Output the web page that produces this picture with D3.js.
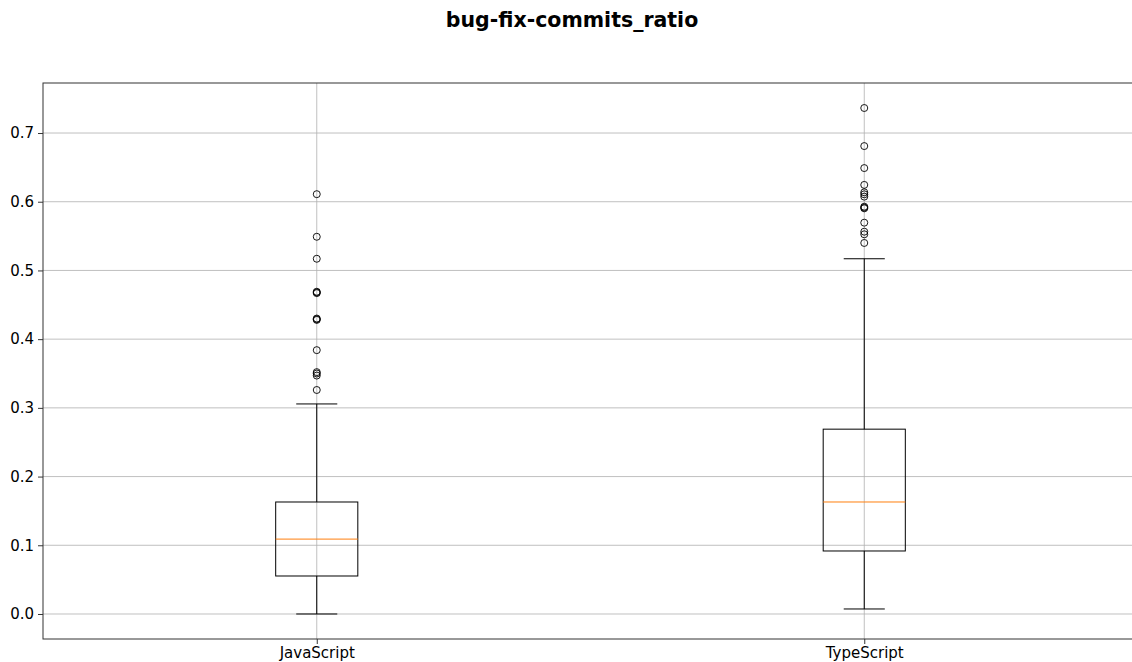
<!DOCTYPE html>
<html>
<head>
<meta charset="utf-8">
<script src="https://cdn.jsdelivr.net/npm/d3@7"></script>
<style>
  body { margin: 0; background: #fff; }
  svg { display: block; font-family: "DejaVu Sans", sans-serif; }
</style>
</head>
<body>
<svg id="chart" width="1132" height="662"></svg>
<script>
// Languages compared
const categories = ["JavaScript", "TypeScript"];
// Box statistics per language: lower whisker, Q1, median, Q3, upper whisker
const whiskerLow = [0.0, 0.0073];
const q1 = [0.0553, 0.0917];
const median = [0.109, 0.163];
const q3 = [0.163, 0.269];
const whiskerHigh = [0.3057, 0.517];
// Points beyond the whiskers
const outliersJS = [0.611, 0.549, 0.517, 0.468, 0.467, 0.469, 0.429, 0.428, 0.430, 0.384, 0.352, 0.350, 0.347, 0.326];
const outliersTS = [0.7364, 0.681, 0.649, 0.6245, 0.6137, 0.6108, 0.6074, 0.5928, 0.5915, 0.5904, 0.5695, 0.5564, 0.5526, 0.540];
const outliers = [outliersJS, outliersTS];
const yTicks = [0.0, 0.1, 0.2, 0.3, 0.4, 0.5, 0.6, 0.7];

const svg = d3.select("#chart");
const plotLeft = 43, plotRight = 1138, plotTop = 83, plotBottom = 639;

const x = d3.scaleLinear().domain([0.5, 2.5]).range([plotLeft, plotRight]);
const y = d3.scaleLinear().domain([-0.0364, 0.7728]).range([plotBottom, plotTop]);
const boxW = 0.15;

// Title
svg.append("text")
  .attr("x", 572).attr("y", 27)
  .attr("text-anchor", "middle")
  .attr("font-size", 20.5).attr("font-weight", "bold")
  .text("bug-fix-commits_ratio");

const g = svg.append("g");

// Grid
g.selectAll("line.hgrid").data(yTicks).join("line")
  .attr("x1", plotLeft).attr("x2", plotRight)
  .attr("y1", d => y(d)).attr("y2", d => y(d))
  .attr("stroke", "#b0b0b0").attr("stroke-width", 0.8);
g.selectAll("line.vgrid").data(categories).join("line")
  .attr("x1", (d, i) => x(i + 1)).attr("x2", (d, i) => x(i + 1))
  .attr("y1", plotTop).attr("y2", plotBottom)
  .attr("stroke", "#b0b0b0").attr("stroke-width", 0.8);

// Axes
const yAxis = d3.axisLeft(y).tickValues(yTicks).tickFormat(d3.format(".1f")).tickSize(5).tickPadding(4);
const yg = svg.append("g").attr("transform", `translate(${plotLeft},0)`).call(yAxis);
yg.select(".domain").remove();
yg.selectAll("text").attr("font-size", 15).attr("fill", "#000").attr("font-family", "DejaVu Sans");
yg.selectAll("line").attr("stroke", "#000").attr("stroke-width", 0.8);

const xAxis = d3.axisBottom(x).tickValues([1, 2]).tickFormat((d) => categories[d - 1]).tickSize(5).tickPadding(3);
const xg = svg.append("g").attr("transform", `translate(0,${plotBottom})`).call(xAxis);
xg.select(".domain").remove();
xg.selectAll("text").attr("font-size", 15).attr("fill", "#000").attr("font-family", "DejaVu Sans");
xg.selectAll("line").attr("stroke", "#000").attr("stroke-width", 0.8);

// Frame
svg.append("rect")
  .attr("x", plotLeft).attr("y", plotTop)
  .attr("width", plotRight - plotLeft).attr("height", plotBottom - plotTop)
  .attr("fill", "none").attr("stroke", "#333").attr("stroke-width", 1);

// Boxes
const boxes = g.selectAll("g.box").data(categories).join("g");
boxes.each(function(d, i) {
  const s = d3.select(this);
  const cx = x(i + 1);
  const x0 = x(i + 1 - boxW / 2), x1 = x(i + 1 + boxW / 2);
  const c0 = x(i + 1 - boxW / 4), c1 = x(i + 1 + boxW / 4);
  // whiskers
  s.append("line").attr("x1", cx).attr("x2", cx).attr("y1", y(whiskerLow[i])).attr("y2", y(q1[i])).attr("stroke", "#000").attr("stroke-width", 1);
  s.append("line").attr("x1", cx).attr("x2", cx).attr("y1", y(q3[i])).attr("y2", y(whiskerHigh[i])).attr("stroke", "#000").attr("stroke-width", 1);
  // caps
  s.append("line").attr("x1", c0).attr("x2", c1).attr("y1", y(whiskerLow[i])).attr("y2", y(whiskerLow[i])).attr("stroke", "#000").attr("stroke-width", 1);
  s.append("line").attr("x1", c0).attr("x2", c1).attr("y1", y(whiskerHigh[i])).attr("y2", y(whiskerHigh[i])).attr("stroke", "#000").attr("stroke-width", 1);
  // box
  s.append("rect").attr("x", x0).attr("y", y(q3[i]))
    .attr("width", x1 - x0).attr("height", y(q1[i]) - y(q3[i]))
    .attr("fill", "none").attr("stroke", "#000").attr("stroke-width", 1);
  // median
  s.append("line").attr("x1", x0).attr("x2", x1).attr("y1", y(median[i])).attr("y2", y(median[i])).attr("stroke", "#ff7f0e").attr("stroke-width", 1);
  // fliers
  s.selectAll("circle").data(outliers[i]).join("circle")
    .attr("cx", cx).attr("cy", v => y(v)).attr("r", 3.5)
    .attr("fill", "none").attr("stroke", "#000").attr("stroke-width", 0.9);
});
</script>
</body>
</html>
